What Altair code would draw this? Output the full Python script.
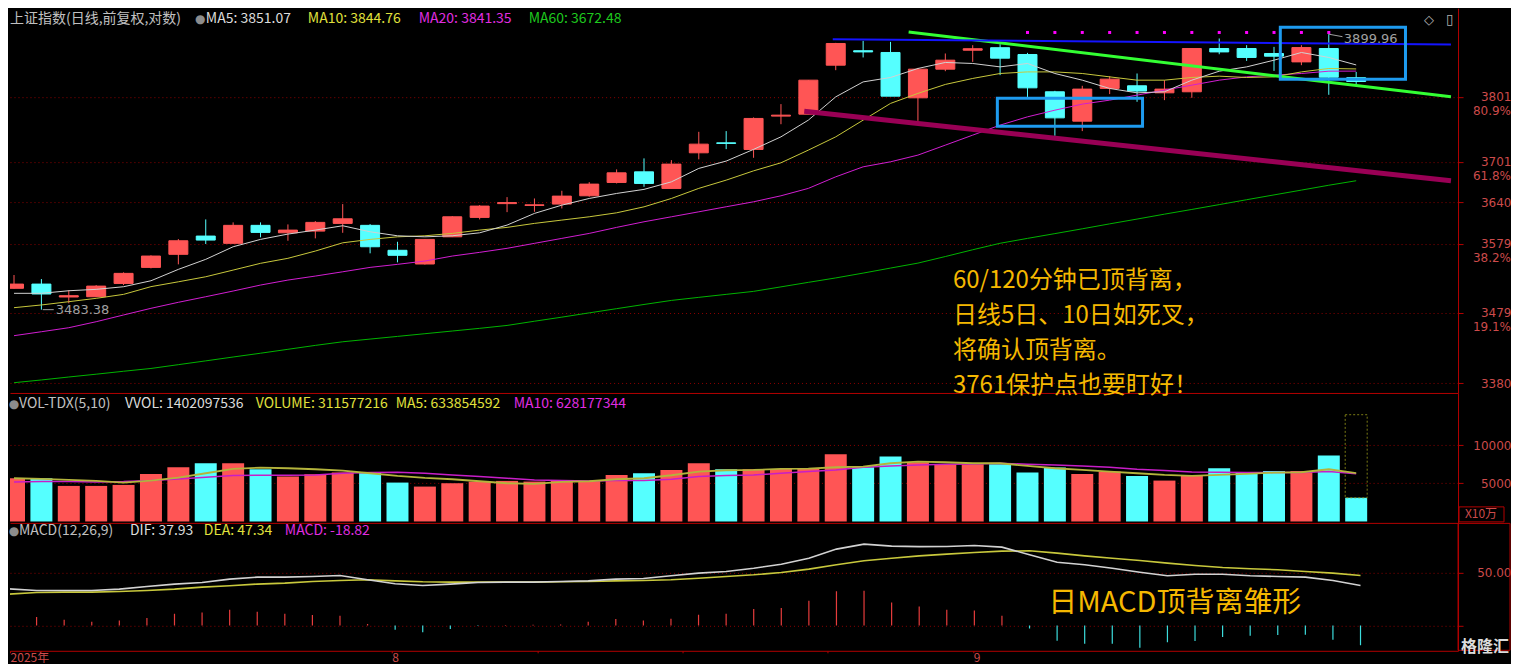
import altair as alt
import pandas as pd

# ---------------- data ----------------
DATES = ["07-14", "07-15", "07-16", "07-17", "07-18", "07-21", "07-22", "07-23", "07-24", "07-25",
         "07-28", "07-29", "07-30", "07-31", "08-01", "08-04", "08-05", "08-06", "08-07", "08-08",
         "08-11", "08-12", "08-13", "08-14", "08-15", "08-18", "08-19", "08-20", "08-21", "08-22",
         "08-25", "08-26", "08-27", "08-28", "08-29", "09-01", "09-02", "09-03", "09-04", "09-05",
         "09-08", "09-09", "09-10", "09-11", "09-12", "09-15", "09-16", "09-17", "09-18", "09-19"]

OPEN = [3514.0, 3520.1, 3501.5, 3501.9, 3521.0, 3544.3, 3563.3, 3590.1, 3579.4, 3605.9,
        3594.9, 3597.4, 3608.8, 3605.9, 3569.2, 3549.2, 3589.0, 3617.7, 3638.2, 3635.5,
        3637.5, 3649.9, 3669.9, 3685.9, 3660.9, 3714.8, 3730.0, 3719.9, 3771.1, 3774.1,
        3850.7, 3873.6, 3870.8, 3799.5, 3844.4, 3874.4, 3878.4, 3867.6, 3808.9, 3763.3,
        3814.2, 3818.3, 3807.3, 3808.9, 3877.1, 3877.1, 3869.2, 3855.9, 3877.1, 3831.0]
HIGH = [3533.2, 3527.4, 3511.5, 3518.6, 3537.1, 3561.9, 3585.7, 3614.7, 3610.3, 3610.3,
        3607.3, 3612.2, 3637.5, 3607.8, 3581.7, 3585.7, 3619.6, 3636.0, 3647.9, 3645.9,
        3657.4, 3670.4, 3689.6, 3706.3, 3703.7, 3746.9, 3748.0, 3769.1, 3789.7, 3827.1,
        3886.1, 3889.3, 3887.7, 3846.4, 3869.2, 3882.4, 3884.0, 3870.2, 3810.4, 3818.3,
        3833.4, 3837.6, 3827.1, 3877.1, 3893.1, 3882.4, 3879.7, 3882.4, 3899.96, 3840.0]
LOW = [3513.6, 3483.38, 3492.5, 3501.5, 3518.7, 3542.9, 3548.7, 3578.4, 3579.4, 3588.2,
       3583.2, 3586.7, 3594.9, 3564.8, 3551.6, 3548.4, 3588.6, 3614.7, 3625.5, 3626.0,
       3631.0, 3648.4, 3668.4, 3663.4, 3660.9, 3704.8, 3720.4, 3707.2, 3758.6, 3774.1,
       3842.8, 3862.9, 3802.1, 3763.8, 3841.2, 3855.9, 3835.0, 3800.1, 3740.8, 3748.0,
       3805.3, 3793.3, 3795.9, 3799.5, 3868.0, 3857.5, 3841.7, 3850.7, 3804.2, 3820.0]
CLOSE = [3520.1, 3505.8, 3503.4, 3517.2, 3535.6, 3560.8, 3583.2, 3584.2, 3605.9, 3595.5,
         3598.9, 3610.3, 3615.6, 3574.4, 3561.9, 3585.2, 3618.6, 3634.5, 3639.7, 3636.4,
         3649.4, 3667.4, 3684.4, 3668.4, 3697.6, 3728.0, 3729.1, 3767.5, 3772.6, 3827.1,
         3885.1, 3871.7, 3802.1, 3844.4, 3858.6, 3876.8, 3861.8, 3815.1, 3768.4, 3813.1,
         3828.7, 3810.0, 3813.1, 3877.1, 3871.7, 3862.9, 3864.9, 3878.6, 3831.7, 3825.0]

MA5 = [3506.8, 3506.8, 3510.5, 3512.5, 3516.3, 3524.9, 3541.4, 3556.0, 3574.4, 3585.2,
       3593.0, 3598.9, 3605.3, 3596.4, 3590.5, 3589.0, 3590.5, 3594.9, 3606.3, 3623.6,
       3635.9, 3645.9, 3653.4, 3659.5, 3670.8, 3691.1, 3702.2, 3720.0, 3739.2, 3764.9,
       3801.0, 3824.4, 3831.3, 3845.5, 3855.0, 3853.4, 3848.0, 3853.4, 3837.6, 3827.1,
       3814.1, 3807.3, 3808.9, 3827.1, 3841.2, 3848.0, 3858.6, 3870.8, 3862.9, 3851.07]
MA10 = [3486.2, 3490.1, 3494.8, 3499.6, 3505.3, 3516.4, 3523.4, 3530.7, 3540.4, 3550.2,
        3557.5, 3568.1, 3580.2, 3585.2, 3589.0, 3590.5, 3594.0, 3598.9, 3602.9, 3608.8,
        3613.7, 3618.6, 3624.5, 3633.4, 3645.9, 3661.0, 3673.4, 3687.4, 3699.6, 3718.9,
        3739.2, 3764.9, 3790.8, 3806.4, 3820.4, 3829.8, 3837.6, 3840.1, 3840.1, 3837.6,
        3832.3, 3827.1, 3827.1, 3831.3, 3833.4, 3831.3, 3832.3, 3840.1, 3845.5, 3844.76]
MA20 = [3446.4, 3452.0, 3457.7, 3466.2, 3475.8, 3485.3, 3493.9, 3501.9, 3510.1, 3518.7,
        3525.9, 3531.7, 3537.9, 3544.3, 3548.7, 3553.5, 3560.8, 3566.2, 3572.1, 3579.4,
        3586.7, 3594.0, 3602.9, 3611.2, 3618.6, 3626.0, 3633.5, 3640.9, 3649.9, 3661.0,
        3678.4, 3693.5, 3701.1, 3711.3, 3726.5, 3741.8, 3757.2, 3770.0, 3780.3, 3789.7,
        3795.9, 3803.7, 3811.5, 3819.3, 3827.1, 3832.3, 3835.0, 3837.6, 3841.2, 3841.35]
MA60 = [3380.6, 3384.4, 3388.5, 3392.4, 3396.5, 3400.4, 3405.7, 3411.0, 3416.4, 3421.7,
        3427.2, 3432.7, 3437.8, 3441.6, 3445.4, 3449.2, 3453.0, 3456.8, 3460.9, 3466.9,
        3472.7, 3478.8, 3484.8, 3490.8, 3496.6, 3501.0, 3505.3, 3509.6, 3516.1, 3522.6,
        3529.0, 3536.0, 3543.3, 3550.5, 3560.1, 3570.0, 3579.5, 3586.7, 3593.7, 3600.8,
        3608.1, 3615.2, 3622.5, 3629.5, 3636.7, 3644.0, 3651.2, 3658.4, 3665.7, 3672.48]

# volume in units of 10万 (1e5)
VOL = [5677, 5677, 4671, 4671, 4802, 6245, 7120, 7645, 7645, 6857,
       5895, 6201, 6420, 6420, 5108, 4583, 5021, 5239, 5327, 5239,
       5370, 5327, 6114, 6333, 6770, 7645, 6857, 6857, 6901, 6945,
       8826, 7120, 8519, 7776, 7514, 7514, 7514, 6420, 7076, 6245,
       6551, 5983, 5370, 5983, 6989, 6508, 6639, 6639, 8650, 3116]
VOL_MA5 = [5677, 5589, 5458, 5327, 5108, 5370, 5764, 6333, 6901, 7076,
           6989, 6857, 6682, 6333, 5983, 5720, 5545, 5283, 5021, 4933,
           5196, 5283, 5545, 5677, 6070, 6551, 6726, 6770, 6901, 6945,
           7120, 7207, 7645, 7863, 7776, 7645, 7645, 7295, 6989, 6770,
           6551, 6333, 6114, 5983, 6114, 6245, 6420, 6464, 6857, 6338]
VOL_MA10 = [5196, 5239, 5239, 5196, 5239, 5370, 5589, 5808, 6026, 6070,
            6070, 6114, 6333, 6420, 6464, 6333, 6114, 5895, 5677, 5458,
            5370, 5327, 5370, 5370, 5545, 5895, 6026, 6114, 6333, 6551,
            6770, 7120, 7295, 7426, 7514, 7557, 7645, 7514, 7426, 7295,
            7120, 6857, 6682, 6508, 6464, 6420, 6420, 6420, 6551, 6282]
VVOL = 14021.0

DIF = [34.7, 33.1, 33.1, 33.1, 34.4, 36.9, 39.2, 40.7, 43.9, 45.8,
       45.8, 46.4, 47.4, 43.3, 39.5, 37.9, 39.2, 40.7, 41.1, 41.1,
       41.7, 42.3, 43.9, 44.5, 47.1, 49.6, 51.2, 54.3, 58.1, 63.8,
       72.4, 77.1, 75.2, 74.8, 74.9, 75.8, 74.3, 67.0, 60.0, 57.5,
       54.3, 50.5, 47.1, 48.6, 48.6, 47.1, 46.4, 45.8, 42.6, 37.93]
DEA = [29.7, 31.2, 31.6, 31.6, 32.2, 33.1, 34.4, 36.3, 37.6, 39.2,
       40.1, 41.7, 42.6, 43.3, 42.3, 41.4, 41.1, 41.1, 41.1, 41.1,
       41.4, 41.7, 42.3, 42.6, 43.3, 44.8, 46.4, 48.0, 50.2, 53.4,
       57.5, 61.3, 63.8, 66.0, 67.6, 69.2, 70.5, 70.8, 68.6, 66.0,
       63.8, 61.6, 59.1, 56.9, 55.0, 53.7, 52.8, 51.2, 49.6, 47.34]
MACD_HIST = [10.8, 7.9, 5.4, 3.5, 4.7, 7.0, 11.1, 12.3, 14.9, 13.0,
             11.1, 9.8, 9.2, 1.3, -4.1, -6.6, -3.5, -0.5, 0.3, 0.5,
             0.9, 3.5, 6.0, 4.7, 6.3, 10.1, 11.1, 15.5, 16.4, 23.4,
             32.3, 32.9, 21.8, 18.0, 14.9, 14.2, 9.2, -3.0, -14.6, -17.5,
             -17.5, -21.3, -16.0, -14.8, -11.1, -9.8, -9.2, -8.9, -13.6, -18.82]

PRICE_TICKS = [3380, 3479, 3579, 3640, 3701, 3801]
PCT_TEXT = ["80.9%", "61.8%", "38.2%", "19.1%"]
PCT_PRICE = [3801, 3701, 3579, 3479]
VOL_TICKS = [5000, 10000]
MACD_TICKS = [0, 50]
DATE_TICK_POS = [1.04, 14.88, 20.17, 25.42, 30.67, 35.96]

# hand-drawn annotations (candle index, price)
BLUE_X, BLUE_P = [30.89, 53.46], [3892.0, 3883.5]
GREEN_X, GREEN_P = [33.66, 53.46], [3903.6, 3801.0]
MAROON_X, MAROON_P = [29.85, 53.46], [3778.8, 3672.4]
BOX_X1, BOX_X2 = [36.9, 47.23], [42.2, 51.80]
BOX_P1, BOX_P2 = [3755.6, 3828.7], [3799.0, 3911.1]
DOT_IDX = [38, 39, 40, 41, 42, 43, 44, 45, 46, 47, 48, 49]
DOT_PRICE = 3902.7

NOTE_LINES = ["60/120分钟已顶背离，", "日线5日、10日如死叉，", "将确认顶背离。", "3761保护点也要盯好！"]
NOTE_X, NOTE_TOP_PRICE = 35.28, 3541.9
MACD_NOTE = "日MACD顶背离雏形"
MACD_NOTE_X, MACD_NOTE_V = 38.68, 21.4

# ---------------- layout / style ----------------
W = 1449
H_PRICE, H_VOL, H_MACD = 385, 130, 128
X_DOMAIN = [1.036, 53.536]
PRICE_DOMAIN = [3366.4, 3941.7]
VOL_DOMAIN = [-184, 16877]
MACD_DOMAIN = [-24.1, 97.3]

RED, CYAN = "#ff5555", "#55ffff"
AX, GRID, LBL = "#b40000", "#8c0000", "#cd4b4b"
GOLD = "#f5b800"
CJK, NUM = "Noto Sans CJK SC", "DejaVu Sans"

N = len(DATES)
df = pd.DataFrame({
    "idx": list(range(1, N + 1)), "date": DATES,
    "open": OPEN, "high": HIGH, "low": LOW, "close": CLOSE,
    "ma5": MA5, "ma10": MA10, "ma20": MA20, "ma60": MA60,
    "vol": VOL, "vma5": VOL_MA5, "vma10": VOL_MA10,
    "dif": DIF, "dea": DEA, "hist": MACD_HIST,
})
df["zero"] = 0.0
ONE = pd.DataFrame({"k": [0]})

XS = alt.Scale(domain=X_DOMAIN, nice=False, zero=False)
SCALES = {
    "price": alt.Scale(type="log", domain=PRICE_DOMAIN, nice=False),
    "vol": alt.Scale(domain=VOL_DOMAIN, nice=False, zero=False),
    "macd": alt.Scale(domain=MACD_DOMAIN, nice=False, zero=False),
}


def right_axis(values, fmt=None, expr=None):
    kw = dict(orient="right", values=values, title=None, labelAlign="right", labelPadding=48,
              labelFont=NUM, labelFontSize=12, labelColor=LBL, tickSize=5, tickColor=AX,
              domainColor=AX, domainWidth=1, grid=True, gridColor=GRID, gridDash=[1, 3],
              gridWidth=1, labelOverlap=False, labelFlush=False)
    if fmt:
        kw["format"] = fmt
    if expr:
        kw["labelExpr"] = expr
    return alt.Axis(**kw)


line_axis = alt.Axis(orient="bottom", labels=False, ticks=False, domain=True,
                     domainColor=AX, grid=False, title=None)
date_axis = alt.Axis(
    orient="bottom", values=DATE_TICK_POS, title=None, grid=False,
    labelExpr="datum.value < 2 ? '2025年' : (datum.value > 14 && datum.value < 16) ? '8' : "
              "(datum.value > 35 && datum.value < 37) ? '9' : ''",
    labelAlign="left", labelPadding=0, labelFont=CJK, labelFontSize=12, labelColor=LBL,
    labelOverlap=False, labelFlush=False, tickSize=2, tickColor=AX, domainColor=AX)

YAXES = {
    "price": right_axis(PRICE_TICKS, fmt="d"),
    "vol": right_axis(VOL_TICKS, fmt="d"),
    "macd": right_axis(MACD_TICKS, expr="datum.value == 50 ? '50.00' : ''"),
}
XAXES = {"price": line_axis, "vol": line_axis, "macd": date_axis}


def ex(field, panel):
    return alt.X(f"{field}:Q", scale=XS, axis=XAXES[panel])


def ey(field, panel):
    return alt.Y(f"{field}:Q", scale=SCALES[panel], axis=YAXES[panel])


def txt(s, x, y, color, size=14, font=CJK, align="left", weight="normal"):
    return alt.Chart(ONE).mark_text(align=align, baseline="middle", font=font, fontSize=size,
                                    color=color, fontWeight=weight).encode(
        x=alt.value(x), y=alt.value(y), text=alt.value(s))


def mline(col, color, panel, width=1.0):
    return alt.Chart(df).mark_line(color=color, strokeWidth=width, clip=True).encode(
        x=ex("idx", panel), y=ey(col, panel))


def seg(xv, pv, color, width, panel):
    d = pd.DataFrame({"x": xv, "p": pv})
    return alt.Chart(d).mark_line(color=color, strokeWidth=width).encode(
        x=ex("x", panel), y=ey("p", panel))


updown = alt.condition("datum.close >= datum.open", alt.value(RED), alt.value(CYAN))

# ---------------- price panel ----------------
wicks = alt.Chart(df).mark_rule(strokeWidth=1, clip=True).encode(
    x=ex("idx", "price"), y=ey("low", "price"), y2="high:Q", color=updown)
bodies = alt.Chart(df).mark_bar(size=19, strokeWidth=1, clip=True).encode(
    x=ex("idx", "price"), y=ey("open", "price"), y2="close:Q", fill=updown, stroke=updown)

pct = alt.Chart(pd.DataFrame({"p": PCT_PRICE, "t": PCT_TEXT})).mark_text(
    align="right", baseline="middle", dy=14, font=NUM, fontSize=12, color=LBL).encode(
    x=alt.value(1502), y=ey("p", "price"), text="t:N")

boxes = alt.Chart(pd.DataFrame({"x1": BOX_X1, "x2": BOX_X2, "p1": BOX_P1, "p2": BOX_P2})).mark_rect(
    fillOpacity=0, stroke="#1e9bef", strokeWidth=3).encode(
    x=ex("x1", "price"), x2="x2:Q", y=ey("p1", "price"), y2="p2:Q")

dots = alt.Chart(pd.DataFrame({"idx": DOT_IDX, "p": [DOT_PRICE] * len(DOT_IDX)})).mark_square(
    size=9, color="#ff00ff", opacity=1).encode(x=ex("idx", "price"), y=ey("p", "price"))

hi_i = HIGH.index(max(HIGH)) + 1
lo_i = LOW.index(min(LOW)) + 1
hi_lbl = alt.Chart(pd.DataFrame({"x": [hi_i + 0.55], "p": [max(HIGH)], "t": [f"{max(HIGH):.2f}"]})).mark_text(
    align="left", baseline="middle", dy=5, font=NUM, fontSize=13, color="#a0a0a0").encode(
    x=ex("x", "price"), y=ey("p", "price"), text="t:N")
lo_lbl = alt.Chart(pd.DataFrame({"x": [lo_i + 0.52], "p": [min(LOW)], "t": [f"{min(LOW):.2f}"]})).mark_text(
    align="left", baseline="middle", font=NUM, fontSize=13, color="#a0a0a0").encode(
    x=ex("x", "price"), y=ey("p", "price"), text="t:N")
hi_arrow = seg([hi_i, hi_i + 0.5], [max(HIGH), max(HIGH) - 4], "#a0a0a0", 1, "price")
lo_arrow = seg([lo_i + 0.05, lo_i + 0.45], [min(LOW), min(LOW)], "#a0a0a0", 1, "price")

notes = alt.Chart(pd.DataFrame({"x": [NOTE_X], "p": [NOTE_TOP_PRICE]})).mark_text(
    align="left", baseline="top", font=CJK, fontSize=24, lineHeight=35, color=GOLD).encode(
    x=ex("x", "price"), y=ey("p", "price"), text=alt.value(NOTE_LINES))

price_layers = [
    wicks, bodies,
    mline("ma60", "#00b400", "price"), mline("ma20", "#d21ed2", "price"),
    mline("ma10", "#c8c83c", "price"), mline("ma5", "#d2d2d2", "price"),
    seg(MAROON_X, MAROON_P, "#990055", 5, "price"),
    seg(GREEN_X, GREEN_P, "#33ff33", 3, "price"),
    seg(BLUE_X, BLUE_P, "#1414ff", 2, "price"),
    boxes, dots, hi_arrow, lo_arrow, hi_lbl, lo_lbl, pct, notes,
    txt("上证指数(日线,前复权,对数)", 0, 11, "#c0c0c0"),
    txt("●", 185, 11, "#8c8c8c", size=12, font=NUM),
    txt("MA5: 3851.07", 196, 11, "#dcdcdc"),
    txt("MA10: 3844.76", 298, 11, "#e1e13c"),
    txt("MA20: 3841.35", 409, 11, "#e12de1"),
    txt("MA60: 3672.48", 519, 11, "#1ec81e"),
    txt("◇", 1415, 12, "#b0b0b0", size=13, font=NUM),
    txt("▯", 1437, 12, "#b0b0b0", size=14, font=NUM),
]
price = alt.layer(*price_layers).properties(width=W, height=H_PRICE)

# ---------------- volume panel ----------------
vbars = alt.Chart(df).mark_bar(size=22, clip=True).encode(
    x=ex("idx", "vol"), y=ey("vol", "vol"), color=updown)
vvol_box = alt.Chart(pd.DataFrame({"idx": [N], "lo": [VOL[-1]], "hi": [VVOL]})).mark_bar(
    size=22, fillOpacity=0, stroke="#7a7a14", strokeWidth=1, strokeDash=[2, 2]).encode(
    x=ex("idx", "vol"), y=ey("lo", "vol"), y2="hi:Q")
x10_box = alt.Chart(ONE).mark_rect(fillOpacity=0, stroke=AX, strokeWidth=1).encode(
    x=alt.value(1450), x2=alt.value(1495), y=alt.value(114), y2=alt.value(129))

vol_layers = [
    vbars, vvol_box,
    mline("vma10", "#c81ec8", "vol", 1.5), mline("vma5", "#b4b43c", "vol", 1.8),
    txt("●", 4, 11, "#8c8c8c", size=12, font=NUM, align="center"),
    txt("VOL-TDX(5,10)", 9, 11, "#c0c0c0"),
    txt("VVOL: 1402097536", 115, 11, "#dcdcdc"),
    txt("VOLUME: 311577216", 246, 11, "#e1e13c"),
    txt("MA5: 633854592", 386, 11, "#e1e13c"),
    txt("MA10: 628177344", 504, 11, "#e12de1"),
    x10_box, txt("X10万", 1472, 121.5, LBL, size=12, font=CJK, align="center"),
]
vol = alt.layer(*vol_layers).properties(width=W, height=H_VOL)

# ---------------- MACD panel ----------------
hist = alt.Chart(df).mark_rule(strokeWidth=1.2, clip=True).encode(
    x=ex("idx", "macd"), y=ey("zero", "macd"), y2="hist:Q",
    color=alt.condition("datum.hist >= 0", alt.value("#e63c3c"), alt.value("#3cdcdc")))
macd_note = alt.Chart(pd.DataFrame({"x": [MACD_NOTE_X], "v": [MACD_NOTE_V], "t": [MACD_NOTE]})).mark_text(
    align="left", baseline="middle", font=CJK, fontSize=29, color=GOLD).encode(
    x=ex("x", "macd"), y=ey("v", "macd"), text="t:N")
macd_box = alt.Chart(ONE).mark_rect(fillOpacity=0, stroke=AX, strokeWidth=1).encode(
    x=alt.value(1449), x2=alt.value(1501), y=alt.value(0.5), y2=alt.value(127.5))

macd_layers = [
    hist,
    mline("dea", "#c8c83c", "macd", 1.6), mline("dif", "#d2d2d2", "macd", 1.6),
    macd_note, macd_box,
    txt("●", 4, 8, "#8c8c8c", size=12, font=NUM, align="center"),
    txt("MACD(12,26,9)", 9, 8, "#c0c0c0"),
    txt("DIF: 37.93", 120, 8, "#dcdcdc"),
    txt("DEA: 47.34", 194, 8, "#e1e13c"),
    txt("MACD: -18.82", 275, 8, "#e12de1"),
    txt("格隆汇", 1500, 124, "#dcdcdc", size=16, align="right", weight="bold"),
]
macd = alt.layer(*macd_layers).properties(width=W, height=H_MACD)

chart = alt.vconcat(price, vol, macd, spacing=0, bounds="flush").properties(
    background="#000000", padding=0).configure_view(strokeWidth=0)

chart.save("out.html", embed_options={"renderer": "svg", "actions": False})
